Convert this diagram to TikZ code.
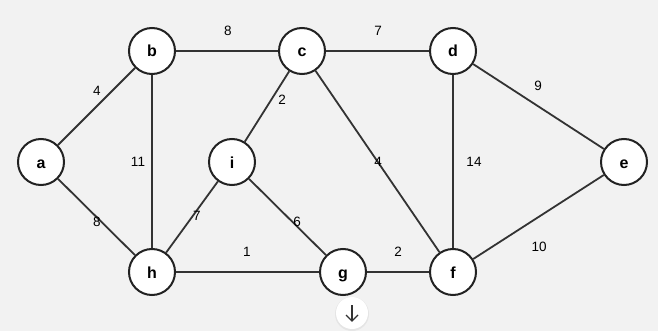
\documentclass[tikz,border=0pt]{standalone}
\usepackage{fontspec}
\setmainfont{Liberation Sans}
\definecolor{bg}{HTML}{F2F2F2}
\definecolor{edgec}{HTML}{333333}
\definecolor{nodec}{HTML}{222222}
\begin{document}
\begin{tikzpicture}[x=1pt,y=-1pt,
  vert/.style={circle,draw=nodec,line width=2pt,fill=white,minimum size=46pt,inner sep=0pt,text height=14pt,text depth=2pt,font=\fontsize{16}{18}\selectfont\bfseries},
  edge/.style={draw=edgec,line width=1.8pt},
  wt/.style={font=\fontsize{13.5}{15}\selectfont,text=black,inner sep=0pt}]
\fill[bg] (0,0) rectangle (658,331);
\useasboundingbox (0,0) rectangle (658,331);
\node[vert] (a) at (41,162) {a};
\node[vert] (b) at (152,51) {b};
\node[vert] (c) at (302,51) {c};
\node[vert] (d) at (453,51) {d};
\node[vert] (e) at (624,162) {e};
\node[vert] (i) at (232,162) {i};
\node[vert] (h) at (152,272) {h};
\node[vert] (g) at (343,272) {g};
\node[vert] (f) at (453,272) {f};
\path[edge] (a) -- (b);
\path[edge] (a) -- (h);
\path[edge] (b) -- (c);
\path[edge] (b) -- (h);
\path[edge] (c) -- (d);
\path[edge] (c) -- (i);
\path[edge] (c) -- (f);
\path[edge] (d) -- (e);
\path[edge] (d) -- (f);
\path[edge] (e) -- (f);
\path[edge] (i) -- (h);
\path[edge] (i) -- (g);
\path[edge] (h) -- (g);
\path[edge] (g) -- (f);
\node[wt] (w1) at (228,31) {8};
\node[wt] (w2) at (378,31) {7};
\node[wt] (w3) at (97,91) {4};
\node[wt] (w4) at (282,100) {2};
\node[wt] (w5) at (138,162) {11};
\node[wt] (w6) at (378,162) {4};
\node[wt] (w7) at (474,162) {14};
\node[wt] (w8) at (538,86) {9};
\node[wt] (w9) at (97,222) {8};
\node[wt] (w10) at (197,216) {7};
\node[wt] (w11) at (297,222) {6};
\node[wt] (w12) at (247,252) {1};
\node[wt] (w13) at (398,252) {2};
\node[wt] (w14) at (539,247) {10};
% scroll button
\fill[black!10] (352,314) circle (17);
\node[circle,fill=white,minimum size=32pt,inner sep=0pt] (btn) at (352,313) {};
\coordinate (ar1) at (352,305);
\coordinate (ar2) at (352,321);
\draw[edgec,line width=1.2pt] (ar1) -- (ar2);
\draw[edgec,line width=1.2pt,line join=miter] (346,315) -- (ar2) -- (358,315);
\end{tikzpicture}
\end{document}
